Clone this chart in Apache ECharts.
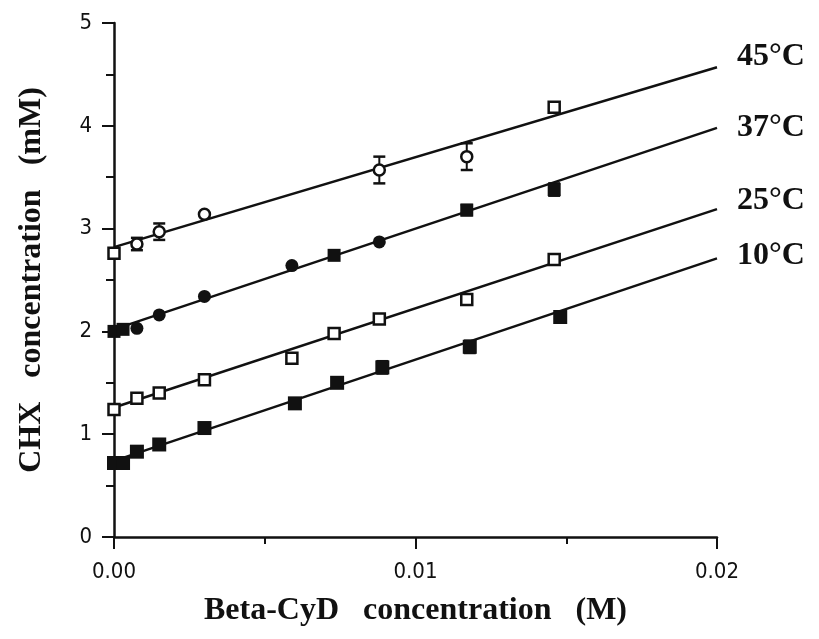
<!DOCTYPE html>
<html><head><meta charset="utf-8">
<script src="https://cdn.jsdelivr.net/npm/echarts@6/dist/echarts.min.js"></script>
<style>html,body{margin:0;padding:0;background:#fff}#c{width:819px;height:639px}</style>
</head><body><div id="c"></div>
<script>
// ---- data ----
const xTickLabels = ['0.00', '0.01', '0.02'];
const fitX = [0, 0.02];

const x45 = [0, 0.00076, 0.0015, 0.003, 0.0088, 0.0117, 0.0146];
const y45 = [2.76, 2.85, 2.97, 3.14, 3.57, 3.70, 4.18];
const e45 = [0, 0.06, 0.08, 0, 0.13, 0.13, 0];
const s45 = ['rect', 'circle', 'circle', 'circle', 'circle', 'circle', 'rect'];
const fit45 = [2.82, 4.57];

const x37 = [0, 0.0003, 0.00076, 0.0015, 0.003, 0.0059, 0.0073, 0.0088, 0.0117, 0.0146];
const y37 = [2.0, 2.02, 2.03, 2.16, 2.34, 2.64, 2.74, 2.87, 3.18, 3.38];
const e37 = [0, 0, 0, 0, 0, 0, 0, 0, 0.05, 0.06];
const s37 = ['rect', 'rect', 'circle', 'circle', 'circle', 'circle', 'rect', 'circle', 'rect', 'rect'];
const fit37 = [2.02, 3.98];

const x25 = [0, 0.00076, 0.0015, 0.003, 0.0059, 0.0073, 0.0088, 0.0117, 0.0146];
const y25 = [1.24, 1.35, 1.40, 1.53, 1.74, 1.98, 2.12, 2.31, 2.70];
const fit25 = [1.26, 3.19];

const x10 = [0, 0.0003, 0.00076, 0.0015, 0.003, 0.006, 0.0074, 0.0089, 0.0118, 0.0148];
const y10 = [0.72, 0.72, 0.83, 0.90, 1.06, 1.30, 1.50, 1.65, 1.85, 2.14];
const e10 = [0, 0, 0, 0, 0, 0, 0, 0.06, 0.06, 0];
const fit10 = [0.74, 2.71];

const lineNames = ['45°C', '37°C', '25°C', '10°C'];

// ---- build ----
const INK = '#111';
const serif = '"Liberation Serif","Times New Roman",serif';
const narrow = '"Liberation Sans Narrow","DejaVu Sans Condensed","Liberation Sans",sans-serif';

function zip(xs, ys) { return xs.map((x, i) => [x, ys[i]]); }
function withSym(xs, ys, syms) { return xs.map((x, i) => ({ value: [x, ys[i]], symbol: syms[i] })); }
function errs(xs, ys, es) {
  const out = [];
  xs.forEach((x, i) => { if (es[i] > 0) out.push([x, ys[i] - es[i], ys[i] + es[i]]); });
  return out;
}
const errData = [].concat(errs(x45, y45, e45), errs(x37, y37, e37), errs(x10, y10, e10));

function fitSeries(ys, name, dy) {
  return {
    type: 'line', data: zip(fitX, ys), symbol: 'none', silent: true, z: 2,
    lineStyle: { color: INK, width: 2.5 },
    endLabel: { show: true, formatter: name, color: INK, fontFamily: serif, fontWeight: 'bold',
      fontSize: 32, distance: 20, offset: [0, dy] }
  };
}

const chart = echarts.init(document.getElementById('c'));
chart.setOption({
  backgroundColor: '#fff',
  animation: false,
  grid: { left: 114, right: 102, top: 23, bottom: 102, containLabel: false },
  xAxis: {
    type: 'value', min: 0, max: 0.02, interval: 0.01,
    name: 'Beta-CyD   concentration   (M)', nameLocation: 'middle', nameGap: 58,
    nameTextStyle: { fontFamily: serif, fontWeight: 'bold', fontSize: 32, color: INK },
    axisLine: { lineStyle: { color: INK, width: 2.5 } },
    axisTick: { length: 12, lineStyle: { color: INK, width: 2 } },
    minorTick: { show: true, splitNumber: 2, length: 7, lineStyle: { color: INK, width: 2 } },
    splitLine: { show: false },
    axisLabel: { margin: 24, fontFamily: narrow, fontSize: 22, color: INK,
      formatter: (v) => xTickLabels[Math.round(v / 0.01)] }
  },
  yAxis: {
    type: 'value', min: 0, max: 5, interval: 1,
    name: 'CHX   concentration   (mM)', nameLocation: 'middle', nameGap: 66,
    nameTextStyle: { fontFamily: serif, fontWeight: 'bold', fontSize: 32, color: INK },
    axisLine: { lineStyle: { color: INK, width: 2.5 } },
    axisTick: { length: 12, lineStyle: { color: INK, width: 2 } },
    minorTick: { show: true, splitNumber: 2, length: 8, lineStyle: { color: INK, width: 2 } },
    splitLine: { show: false },
    axisLabel: { margin: 22, fontFamily: narrow, fontSize: 22, color: INK }
  },
  series: [
    fitSeries(fit45, lineNames[0], -10),
    fitSeries(fit37, lineNames[1], 0),
    fitSeries(fit25, lineNames[2], -8),
    fitSeries(fit10, lineNames[3], -3),
    {
      type: 'custom', z: 3, data: errData,
      renderItem: function (params, api) {
        const x = api.value(0);
        const lo = api.coord([x, api.value(1)]);
        const hi = api.coord([x, api.value(2)]);
        const w = 6;
        return {
          type: 'group', children: [
            { type: 'line', shape: { x1: lo[0], y1: lo[1], x2: hi[0], y2: hi[1] }, style: { stroke: INK, lineWidth: 2 } },
            { type: 'line', shape: { x1: lo[0] - w, y1: lo[1], x2: lo[0] + w, y2: lo[1] }, style: { stroke: INK, lineWidth: 2.5 } },
            { type: 'line', shape: { x1: hi[0] - w, y1: hi[1], x2: hi[0] + w, y2: hi[1] }, style: { stroke: INK, lineWidth: 2.5 } }
          ]
        };
      }
    },
    { type: 'scatter', z: 5, data: withSym(x45, y45, s45), symbolSize: 11,
      itemStyle: { color: '#fff', borderColor: INK, borderWidth: 2.5, opacity: 1 } },
    { type: 'scatter', z: 5, data: withSym(x37, y37, s37), symbolSize: 13,
      itemStyle: { color: INK, borderColor: INK, borderWidth: 0, opacity: 1 } },
    { type: 'scatter', z: 5, data: zip(x25, y25), symbol: 'rect', symbolSize: 11,
      itemStyle: { color: '#fff', borderColor: INK, borderWidth: 2.5, opacity: 1 } },
    { type: 'scatter', z: 5, data: zip(x10, y10), symbol: 'rect', symbolSize: 14,
      itemStyle: { color: INK, borderColor: INK, borderWidth: 0, opacity: 1 } }
  ]
});
</script>
</body></html>
